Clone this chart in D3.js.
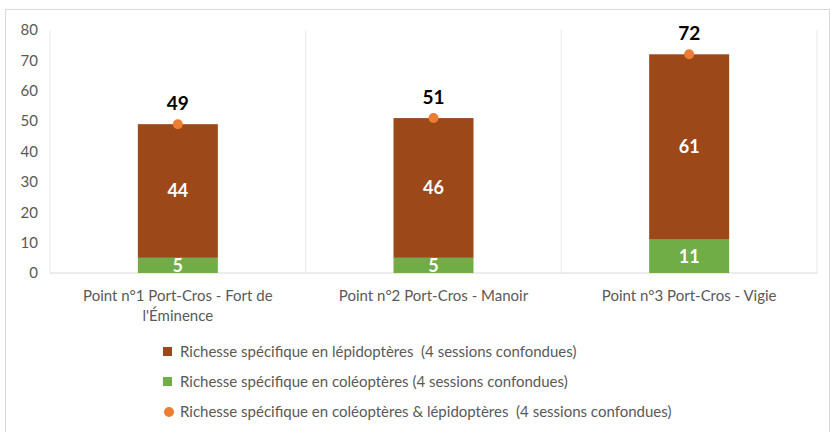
<!DOCTYPE html>
<html><head><meta charset="utf-8">
<script src="https://cdn.jsdelivr.net/npm/d3@7"></script>
<style>body{margin:0;background:#fff;} svg{display:block;font-family:Lato,"Open Sans",sans-serif;} text{white-space:pre;}</style>
</head><body><svg id="c" width="831" height="432"></svg>
<script>
const categories = [["Point n°1 Port-Cros - Fort de","l'Éminence"],["Point n°2 Port-Cros - Manoir"],["Point n°3 Port-Cros - Vigie"]];
const coleopteres = [5,5,11];
const lepidopteres = [44,46,61];
const totals = [49,51,72];
const yTicks = [0,10,20,30,40,50,60,70,80];
const legendLabels = ["Richesse spécifique en lépidoptères  (4 sessions confondues)","Richesse spécifique en coléoptères (4 sessions confondues)","Richesse spécifique en coléoptères & lépidoptères  (4 sessions confondues)"];

const colBrown="#9C4819", colGreen="#70AD47", colOrange="#ED7D31";
const svg=d3.select("#c");
svg.append("rect").attr("x",5.5).attr("y",9.5).attr("width",824).attr("height",430).attr("fill","#fff").attr("stroke","#D9D9D9");

const x=d3.scaleBand().domain(d3.range(categories.length)).range([50,817]).paddingInner(0).paddingOuter(0);
const y=d3.scaleLinear().domain([0,80]).range([273,30]);
const bw=80;

const bounds=d3.range(categories.length+1).map(i=>50+i*x.bandwidth());
svg.append("g").selectAll("line").data(bounds).join("line")
 .attr("x1",d=>d).attr("x2",d=>d).attr("y1",y(80)).attr("y2",y(0)).attr("stroke","#E8E8E8");
svg.append("line").attr("x1",50).attr("x2",817).attr("y1",y(0)).attr("y2",y(0)).attr("stroke","#D9D9D9");

const ya=svg.append("g").attr("transform","translate(38,0)").call(d3.axisLeft(y).tickValues(yTicks).tickSize(0).tickPadding(0));
ya.select(".domain").remove();
ya.selectAll("text").attr("font-size",15).attr("fill","#595959").attr("font-family","Lato,sans-serif");

const cx=i=>x(i)+x.bandwidth()/2;
const g=svg.append("g");
g.selectAll(".g").data(coleopteres).join("rect").attr("x",(d,i)=>cx(i)-bw/2).attr("width",bw)
 .attr("y",d=>y(d)).attr("height",d=>y(0)-y(d)).attr("fill",colGreen);
g.selectAll(".b").data(lepidopteres).join("rect").attr("x",(d,i)=>cx(i)-bw/2).attr("width",bw)
 .attr("y",(d,i)=>y(d+coleopteres[i])).attr("height",(d,i)=>y(coleopteres[i])-y(d+coleopteres[i])).attr("fill",colBrown);

g.selectAll(".lg").data(coleopteres).join("text").attr("x",(d,i)=>cx(i)).attr("y",d=>(y(0)+y(d))/2+6.5)
 .attr("text-anchor","middle").attr("fill","#fff").attr("font-weight","bold").attr("font-size",18).text(d=>d);
g.selectAll(".lb").data(lepidopteres).join("text").attr("x",(d,i)=>cx(i)).attr("y",(d,i)=>(y(coleopteres[i])+y(d+coleopteres[i]))/2+6.5)
 .attr("text-anchor","middle").attr("fill","#fff").attr("font-weight","bold").attr("font-size",18).text(d=>d);

g.selectAll(".dot").data(totals).join("circle").attr("cx",(d,i)=>cx(i)).attr("cy",d=>y(d)).attr("r",5).attr("fill",colOrange);
g.selectAll(".tl").data(totals).join("text").attr("x",(d,i)=>cx(i)).attr("y",d=>y(d)-14)
 .attr("text-anchor","middle").attr("fill","#000").attr("font-weight","bold").attr("font-size",19).text(d=>d);

const cl=svg.append("g").selectAll("text").data(categories).join("text").attr("x",(d,i)=>cx(i)).attr("y",301)
 .attr("text-anchor","middle").attr("fill","#595959").attr("font-size",15);
cl.selectAll("tspan").data(d=>d).join("tspan").attr("x",function(){return this.parentNode.getAttribute("x");})
 .attr("dy",(d,i)=>i?20:0).text(d=>d);

const lg=svg.append("g");
const ly=[352,382,412];
legendLabels.forEach((t,i)=>{
  if(i<2) lg.append("rect").attr("x",163).attr("y",ly[i]-5).attr("width",9).attr("height",9).attr("fill",i==0?colBrown:colGreen);
  else lg.append("circle").attr("cx",169).attr("cy",ly[i]).attr("r",5).attr("fill",colOrange);
  lg.append("text").attr("x",180).attr("y",ly[i]+5).attr("fill","#595959").attr("font-size",15).text(t);
});
</script></body></html>
